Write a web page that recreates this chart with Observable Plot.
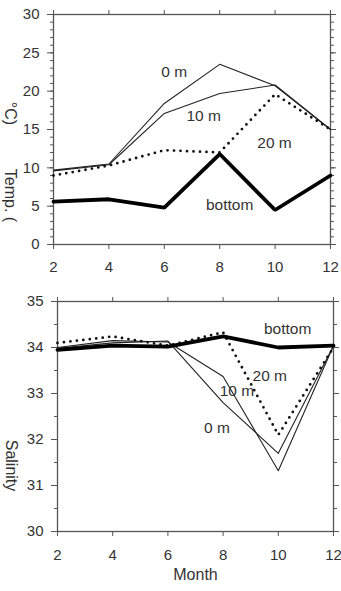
<!DOCTYPE html>
<html>
<head>
<meta charset="utf-8">
<script src="https://cdn.jsdelivr.net/npm/d3@7"></script>
<script src="https://cdn.jsdelivr.net/npm/@observablehq/plot@0.6"></script>
<style>
  html, body { margin: 0; padding: 0; background: #fff; }
  #chart svg { display: block; }
</style>
</head>
<body>
<div id="chart"></div>
<script>
// ---- data ----
const months = [2, 4, 6, 8, 10, 12];
const monthTicks = [2, 4, 6, 8, 10, 12];

const temp0m = [9.7, 10.5, 18.4, 23.5, 20.7, 15.0];
const temp10m = [9.6, 10.4, 17.1, 19.7, 20.8, 15.0];
const temp20m = [9.0, 10.3, 12.3, 12.0, 19.6, 15.0];
const tempBottom = [5.6, 5.9, 4.8, 11.8, 4.5, 9.0];

const sal0m = [33.98, 34.10, 34.14, 32.80, 31.70, 34.04];
const sal10m = [34.00, 34.15, 34.12, 33.37, 31.32, 34.04];
const sal20m = [34.10, 34.24, 34.04, 34.33, 32.10, 34.00];
const salBottom = [33.95, 34.04, 34.02, 34.24, 34.00, 34.04];

const tempTicks = [0, 5, 10, 15, 20, 25, 30];
const salTicks = [30, 31, 32, 33, 34, 35];

const tempLabels = ["0 m", "10 m", "20 m", "bottom"];
const tempLabelX = [6.36, 7.42, 9.98, 8.36];
const tempLabelY = [22.5, 16.8, 13.3, 5.1];

const salLabels = ["bottom", "20 m", "10 m", "0 m"];
const salLabelX = [10.34, 9.69, 8.5, 7.78];
const salLabelY = [34.4, 33.39, 33.06, 32.26];

// ---- helpers ----
const rows = (vals) => months.map((m, i) => ({m, v: vals[i]}));
const labelRows = (txt, xs, ys) => txt.map((t, i) => ({t, x: xs[i], y: ys[i]}));
const FONT = "Liberation Sans, Arial, Helvetica, sans-serif";
const AX = "#555";
const TXT = "#333";
const empty = () => "";

function frameAxes(yTicks, yMinor, opts) {
  return [
    Plot.frame({stroke: AX, strokeWidth: 1.3}),
    Plot.axisX(monthTicks, {anchor: "bottom", tickSize: 5, tickPadding: opts.xPad, stroke: AX, fill: TXT, fontSize: 15, label: null}),
    Plot.axisX(monthTicks, {anchor: "top", tickSize: 5, tickFormat: empty, stroke: AX, label: null}),
    Plot.axisY(yTicks, {anchor: "left", tickSize: 6, tickPadding: opts.yPad, stroke: AX, fill: TXT, fontSize: 15, label: null}),
    Plot.axisY(yMinor, {anchor: "left", tickSize: 3, tickFormat: empty, stroke: AX, label: null}),
    Plot.axisY(yTicks, {anchor: "right", tickSize: 5, tickFormat: empty, stroke: AX, label: null}),
    Plot.axisY(yMinor, {anchor: "right", tickSize: 3, tickFormat: empty, stroke: AX, label: null})
  ];
}

const thin = {x: "m", y: "v", stroke: "#222", strokeWidth: 1.1};
const dotted = {x: "m", y: "v", stroke: "#111", strokeWidth: 2.8, strokeDasharray: "0,6.5", strokeLinecap: "round"};
const thick = {x: "m", y: "v", stroke: "#000", strokeWidth: 3.8, strokeLinejoin: "miter"};
const titleStyle = {frameAnchor: "left", textAnchor: "middle", rotate: 90, fontSize: 16, fill: TXT};

// ---- upper panel: temperature ----
const tempPlot = Plot.plot({
  width: 341,
  height: 285,
  marginTop: 14,
  marginLeft: 53,
  marginRight: 11,
  marginBottom: 41,
  style: {fontFamily: FONT, fontSize: "15px", color: TXT, background: "#fff"},
  x: {domain: [2, 12], label: null},
  y: {domain: [0, 30], label: null},
  marks: [
    ...frameAxes(tempTicks, d3.range(0, 31, 1), {xPad: 12, yPad: 8}),
    Plot.line(rows(temp0m), thin),
    Plot.line(rows(temp10m), thin),
    Plot.line(rows(temp20m), dotted),
    Plot.line(rows(tempBottom), thick),
    Plot.text(labelRows(tempLabels, tempLabelX, tempLabelY), {x: "x", y: "y", text: "t", fontSize: 15.5, fill: TXT}),
    Plot.text(["Temp. ("], {...titleStyle, dx: -43, dy: 66}),
    Plot.text(["°C)"], {...titleStyle, dx: -43, dy: -16})
  ]
});

// ---- lower panel: salinity ----
const salPlot = Plot.plot({
  width: 341,
  height: 306,
  marginTop: 16,
  marginLeft: 57,
  marginRight: 8,
  marginBottom: 60,
  style: {fontFamily: FONT, fontSize: "15px", color: TXT, background: "#fff"},
  x: {domain: [2, 12], label: null},
  y: {domain: [30, 35], label: null},
  marks: [
    ...frameAxes(salTicks, d3.range(30, 35.01, 0.5), {xPad: 13, yPad: 8}),
    Plot.line(rows(sal0m), thin),
    Plot.line(rows(sal10m), thin),
    Plot.line(rows(sal20m), dotted),
    Plot.line(rows(salBottom), thick),
    Plot.text(labelRows(salLabels, salLabelX, salLabelY), {x: "x", y: "y", text: "t", fontSize: 15.5, fill: TXT}),
    Plot.text(["Salinity"], {...titleStyle, dx: -46, dy: 49}),
    Plot.text(["Month"], {frameAnchor: "bottom", dy: 48, fontSize: 16, fill: TXT})
  ]
});

const chart = document.getElementById("chart");
chart.appendChild(tempPlot);
chart.appendChild(salPlot);
</script>
</body>
</html>
